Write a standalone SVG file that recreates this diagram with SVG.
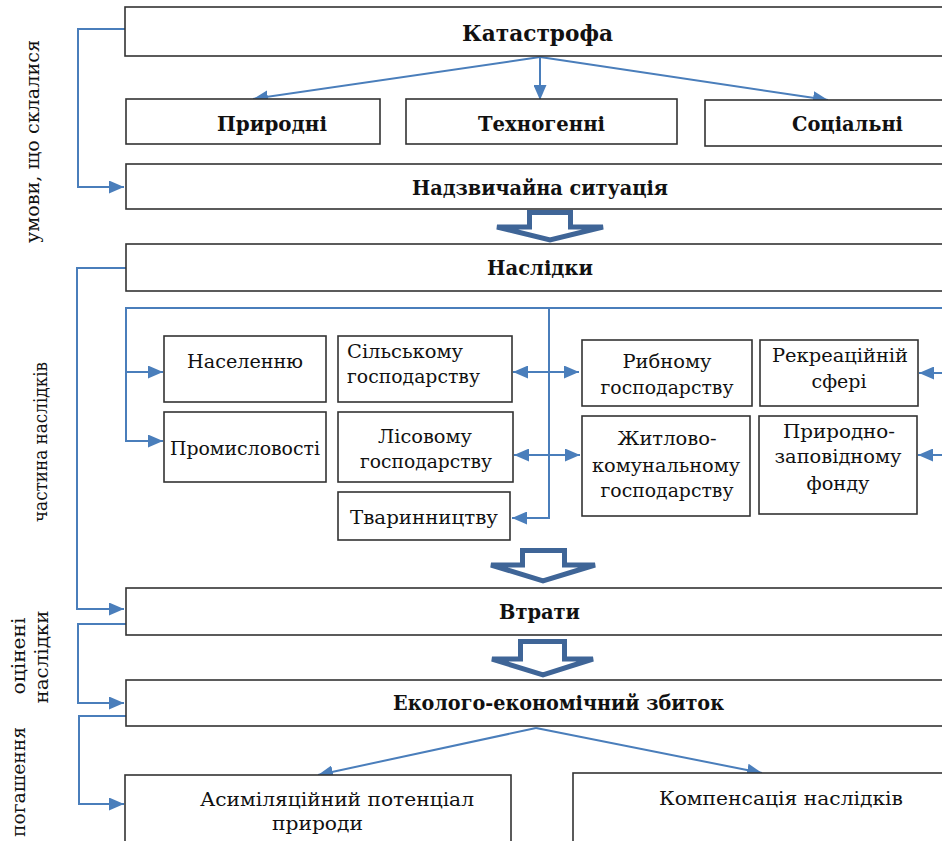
<svg xmlns="http://www.w3.org/2000/svg" width="942" height="841" viewBox="0 0 942 841" font-family="'DejaVu Serif', 'Liberation Serif', serif">
<style>
.box{fill:#fff;stroke:#333;stroke-width:1.6}
.t{font-family:'DejaVu Serif','Liberation Serif',serif;font-size:18px;fill:#111;text-anchor:middle}
.b{font-weight:bold;font-size:20px}
.c{fill:none;stroke:#4a7ebb;stroke-width:2}
.blk{fill:#fff;stroke:#3f6597;stroke-width:5;stroke-linejoin:miter}
</style>
<defs>
<marker id="ah" markerUnits="userSpaceOnUse" markerWidth="15" markerHeight="13" refX="15" refY="6.5" orient="auto-start-reverse">
<path d="M0,0 L15,6.5 L0,13 Z" fill="#4a7ebb"/>
</marker>
</defs>
<rect width="942" height="841" fill="#fff"/>

<g id="connectors">
<path class="c" d="M125,29 H78 V187 H124" marker-end="url(#ah)"/>
<path class="c" d="M540,57 L253,99" marker-end="url(#ah)"/>
<path class="c" d="M540,57 L540,100" marker-end="url(#ah)"/>
<path class="c" d="M540,57 L828,100" marker-end="url(#ah)"/>
<path class="c" d="M126,268 H77 V609 H124" marker-end="url(#ah)"/>
<path class="c" d="M950,308 H126 V441 H163" marker-end="url(#ah)"/>
<path class="c" d="M126,372 H163" marker-end="url(#ah)"/>
<path class="c" d="M549,308 V518 H512" marker-end="url(#ah)"/>
<path class="c" d="M513,372 H579" marker-start="url(#ah)" marker-end="url(#ah)"/>
<path class="c" d="M514,455 H580" marker-start="url(#ah)" marker-end="url(#ah)"/>
<path class="c" d="M950,373 H919" marker-end="url(#ah)"/>
<path class="c" d="M950,455 H918" marker-end="url(#ah)"/>
<path class="c" d="M126,624 H78 V703 H124" marker-end="url(#ah)"/>
<path class="c" d="M126,716 H79 V804 H124" marker-end="url(#ah)"/>
<path class="c" d="M536,728 L318,775" marker-end="url(#ah)"/>
<path class="c" d="M536,728 L762,773" marker-end="url(#ah)"/>
<path class="blk" d="M529.5,212.5 H570.5 V227 H603 L550,240 L497,227 H529.5 Z"/>
<path class="blk" d="M522.5,550.5 H564.5 V565 H595 L543,581 L491,565 H522.5 Z"/>
<path class="blk" d="M520.5,641.5 H564.5 V659 H593 L543,675 L492,659 H520.5 Z"/>
</g>

<g id="labels">
<text class="t" transform="translate(39,141.5) rotate(-90)" textLength="203" lengthAdjust="spacingAndGlyphs">умови, що склалися</text>
<text class="t" transform="translate(47,442) rotate(-90)" textLength="160" lengthAdjust="spacingAndGlyphs">частина наслідків</text>
<text class="t" transform="translate(25,656) rotate(-90)" textLength="77" lengthAdjust="spacingAndGlyphs">оцінені</text>
<text class="t" transform="translate(48,657) rotate(-90)" textLength="93" lengthAdjust="spacingAndGlyphs">наслідки</text>
<text class="t" transform="translate(25,727) rotate(-90)" style="text-anchor:end" textLength="110" lengthAdjust="spacingAndGlyphs">погашення</text>
</g>

<g id="n-katastrofa"><rect class="box" x="125" y="7" width="840" height="49"/>
<text class="t b" x="537.5" y="41" style="font-size:22px" textLength="151" lengthAdjust="spacingAndGlyphs">Катастрофа</text></g>
<g id="n-pryrodni"><rect class="box" x="126" y="99" width="254" height="45"/>
<text class="t b" x="272" y="131" textLength="110" lengthAdjust="spacingAndGlyphs">Природні</text></g>
<g id="n-tekhnohenni"><rect class="box" x="406" y="99" width="271" height="45"/>
<text class="t b" x="541.5" y="131" textLength="127" lengthAdjust="spacingAndGlyphs">Техногенні</text></g>
<g id="n-sotsialni"><rect class="box" x="705" y="100" width="260" height="46"/>
<text class="t b" x="847.5" y="131" textLength="111" lengthAdjust="spacingAndGlyphs">Соціальні</text></g>
<g id="n-ns"><rect class="box" x="126" y="164" width="840" height="45"/>
<text class="t b" x="540" y="195" textLength="256" lengthAdjust="spacingAndGlyphs">Надзвичайна ситуація</text></g>
<g id="n-naslidky"><rect class="box" x="126" y="244" width="840" height="47"/>
<text class="t b" x="540" y="275" textLength="106" lengthAdjust="spacingAndGlyphs">Наслідки</text></g>

<g id="n-naselennyu"><rect class="box" x="164" y="336" width="162" height="66"/>
<text class="t" x="245" y="368" textLength="116" lengthAdjust="spacingAndGlyphs">Населенню</text></g>
<g id="n-promyslovosti"><rect class="box" x="164" y="412" width="162" height="70"/>
<text class="t" x="245" y="455" textLength="150" lengthAdjust="spacingAndGlyphs">Промисловості</text></g>
<g id="n-silske"><rect class="box" x="338" y="336" width="174" height="66"/>
<text class="t" x="347" y="358" style="text-anchor:start" textLength="116" lengthAdjust="spacingAndGlyphs">Сільському</text>
<text class="t" x="347" y="383" style="text-anchor:start" textLength="133" lengthAdjust="spacingAndGlyphs">господарству</text></g>
<g id="n-lisove"><rect class="box" x="338" y="412" width="175" height="70"/>
<text class="t" x="425" y="443" textLength="94" lengthAdjust="spacingAndGlyphs">Лісовому</text>
<text class="t" x="426" y="468" textLength="132" lengthAdjust="spacingAndGlyphs">господарству</text></g>
<g id="n-tvarynnytstvu"><rect class="box" x="338" y="492" width="172" height="48"/>
<text class="t" x="424" y="524" textLength="148" lengthAdjust="spacingAndGlyphs">Тваринництву</text></g>
<g id="n-rybne"><rect class="box" x="582" y="340" width="170" height="66"/>
<text class="t" x="667" y="368" textLength="89" lengthAdjust="spacingAndGlyphs">Рибному</text>
<text class="t" x="667" y="394" textLength="133" lengthAdjust="spacingAndGlyphs">господарству</text></g>
<g id="n-zhytlovo"><rect class="box" x="582" y="416" width="168" height="100"/>
<text class="t" x="667" y="445" textLength="99" lengthAdjust="spacingAndGlyphs">Житлово-</text>
<text class="t" x="666" y="472" textLength="148" lengthAdjust="spacingAndGlyphs">комунальному</text>
<text class="t" x="667" y="497" textLength="133" lengthAdjust="spacingAndGlyphs">господарству</text></g>
<g id="n-rekreatsiina"><rect class="box" x="760" y="340" width="158" height="66"/>
<text class="t" x="840" y="362" textLength="136" lengthAdjust="spacingAndGlyphs">Рекреаційній</text>
<text class="t" x="839" y="388" textLength="55" lengthAdjust="spacingAndGlyphs">сфері</text></g>
<g id="n-pryrodno"><rect class="box" x="759" y="416" width="158" height="98"/>
<text class="t" x="839" y="438" textLength="112" lengthAdjust="spacingAndGlyphs">Природно-</text>
<text class="t" x="838" y="463" textLength="127" lengthAdjust="spacingAndGlyphs">заповідному</text>
<text class="t" x="838" y="490" textLength="63" lengthAdjust="spacingAndGlyphs">фонду</text></g>

<g id="n-vtraty"><rect class="box" x="126" y="588" width="840" height="47"/>
<text class="t b" x="539.5" y="619" textLength="81" lengthAdjust="spacingAndGlyphs">Втрати</text></g>
<g id="n-zbytok"><rect class="box" x="126" y="680" width="840" height="46"/>
<text class="t b" x="558.5" y="710" textLength="331" lengthAdjust="spacingAndGlyphs">Еколого-економічний збиток</text></g>
<g id="n-asymiliatsiinyi"><rect class="box" x="125" y="775" width="386" height="90"/>
<text class="t" x="337" y="806" textLength="274" lengthAdjust="spacingAndGlyphs">Асиміляційний потенціал</text>
<text class="t" x="317.5" y="830" textLength="91" lengthAdjust="spacingAndGlyphs">природи</text></g>
<g id="n-kompensatsiia"><rect class="box" x="573" y="773" width="392" height="92"/>
<text class="t" x="781" y="805" textLength="244" lengthAdjust="spacingAndGlyphs">Компенсація наслідків</text></g>
</svg>
